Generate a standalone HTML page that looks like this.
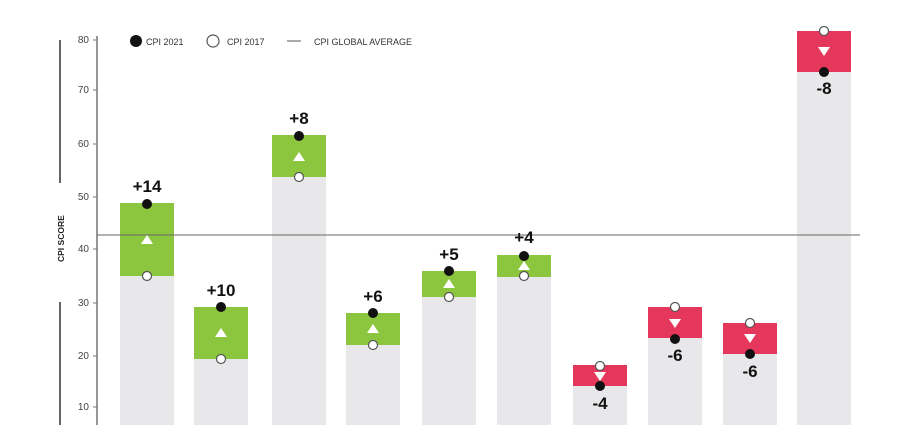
<!DOCTYPE html>
<html><head><meta charset="utf-8"><style>
html,body{margin:0;padding:0;background:#fff;}
svg{display:block;font-family:"Liberation Sans",sans-serif;}
</style></head><body>
<svg width="920" height="425" viewBox="0 0 920 425" xmlns="http://www.w3.org/2000/svg">
<!-- decorative left lines -->
<line x1="60" y1="40" x2="60" y2="183" stroke="#666" stroke-width="2"/>
<line x1="60" y1="302" x2="60" y2="425" stroke="#666" stroke-width="2"/>
<text x="0" y="0" transform="translate(64,262) rotate(-90)" font-size="8.5" font-weight="bold" fill="#222">CPI SCORE</text>
<!-- axis -->
<line x1="97" y1="36" x2="97" y2="425" stroke="#777" stroke-width="1.5"/>
<g font-size="10" fill="#444" text-anchor="end">
<text x="89" y="43">80</text><line x1="93" y1="40" x2="97" y2="40" stroke="#777"/>
<text x="89" y="93">70</text><line x1="93" y1="90" x2="97" y2="90" stroke="#777"/>
<text x="89" y="147">60</text><line x1="93" y1="144" x2="97" y2="144" stroke="#777"/>
<text x="89" y="200">50</text><line x1="93" y1="197" x2="97" y2="197" stroke="#777"/>
<text x="89" y="252">40</text><line x1="93" y1="249" x2="97" y2="249" stroke="#777"/>
<text x="89" y="306">30</text><line x1="93" y1="303" x2="97" y2="303" stroke="#777"/>
<text x="89" y="359">20</text><line x1="93" y1="356" x2="97" y2="356" stroke="#777"/>
<text x="89" y="410">10</text><line x1="93" y1="407" x2="97" y2="407" stroke="#777"/>
</g>
<!-- legend -->
<circle cx="136" cy="41" r="6" fill="#111"/>
<text x="146" y="45" font-size="9" fill="#333">CPI 2021</text>
<circle cx="213" cy="41" r="6" fill="#fff" stroke="#555" stroke-width="1.2"/>
<text x="227" y="45" font-size="9" fill="#333">CPI 2017</text>
<line x1="287" y1="41" x2="301" y2="41" stroke="#555"/>
<text x="314" y="45" font-size="9" fill="#333">CPI GLOBAL AVERAGE</text>
<!-- grey bars -->
<g fill="#e8e8ea">
<rect x="120" y="276" width="54" height="149"/>
<rect x="194" y="359" width="54" height="66"/>
<rect x="272" y="177" width="54" height="248"/>
<rect x="346" y="345" width="54" height="80"/>
<rect x="422" y="297" width="54" height="128"/>
<rect x="497" y="277" width="54" height="148"/>
<rect x="573" y="386" width="54" height="39"/>
<rect x="648" y="338" width="54" height="87"/>
<rect x="723" y="354" width="54" height="71"/>
<rect x="797" y="72" width="54" height="353"/>
</g>
<g fill="#8cc63f">
<rect x="120" y="203" width="54" height="73"/>
<rect x="194" y="307" width="54" height="52"/>
<rect x="272" y="135" width="54" height="42"/>
<rect x="346" y="313" width="54" height="32"/>
<rect x="422" y="271" width="54" height="26"/>
<rect x="497" y="255" width="54" height="22"/>
</g>
<g fill="#e5375b">
<rect x="573" y="365" width="54" height="21"/>
<rect x="648" y="307" width="54" height="31"/>
<rect x="723" y="323" width="54" height="31"/>
<rect x="797" y="31" width="54" height="41"/>
</g>
<!-- average line -->
<line x1="97" y1="235" x2="860" y2="235" stroke="#666" stroke-width="1"/>
<!-- triangles -->
<g fill="#fff">
<polygon points="147,235 141,244 153,244"/>
<polygon points="221,328 215,337 227,337"/>
<polygon points="299,152 293,161 305,161"/>
<polygon points="373,324 367,333 379,333"/>
<polygon points="449,279 443,288 455,288"/>
<polygon points="524,261 518,270 530,270"/>
<polygon points="600,381 594,372 606,372"/>
<polygon points="675,328 669,319 681,319"/>
<polygon points="750,343 744,334 756,334"/>
<polygon points="824,56 818,47 830,47"/>
</g>
<!-- dots 2021 -->
<g fill="#111">
<circle cx="147" cy="204" r="5"/><circle cx="221" cy="307" r="5"/><circle cx="299" cy="136" r="5"/>
<circle cx="373" cy="313" r="5"/><circle cx="449" cy="271" r="5"/><circle cx="524" cy="256" r="5"/>
<circle cx="600" cy="386" r="5"/><circle cx="675" cy="339" r="5"/><circle cx="750" cy="354" r="5"/>
<circle cx="824" cy="72" r="5"/>
</g>
<g fill="#fff" stroke="#555" stroke-width="1.2">
<circle cx="147" cy="276" r="4.5"/><circle cx="221" cy="359" r="4.5"/><circle cx="299" cy="177" r="4.5"/>
<circle cx="373" cy="345" r="4.5"/><circle cx="449" cy="297" r="4.5"/><circle cx="524" cy="276" r="4.5"/>
<circle cx="600" cy="366" r="4.5"/><circle cx="675" cy="307" r="4.5"/><circle cx="750" cy="323" r="4.5"/>
<circle cx="824" cy="31" r="4.5"/>
</g>
<g font-size="17" font-weight="bold" fill="#111" text-anchor="middle">
<text x="147" y="192">+14</text>
<text x="221" y="296">+10</text>
<text x="299" y="124">+8</text>
<text x="373" y="302">+6</text>
<text x="449" y="260">+5</text>
<text x="524" y="243">+4</text>
<text x="600" y="409">-4</text>
<text x="675" y="361">-6</text>
<text x="750" y="377">-6</text>
<text x="824" y="94">-8</text>
</g>
</svg>
</body></html>
